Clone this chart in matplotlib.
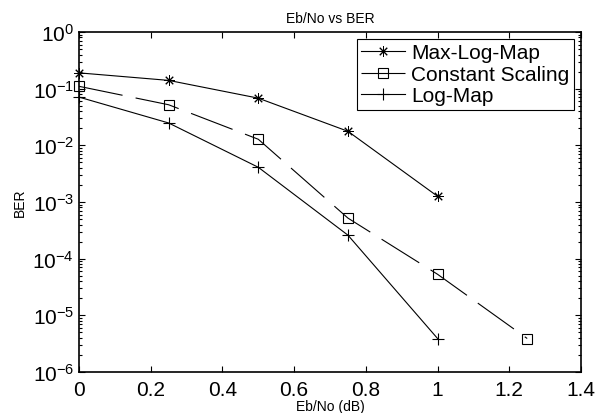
import matplotlib.pyplot as plt
from matplotlib.ticker import LogLocator, NullFormatter

plt.rcParams['font.family'] = ['Liberation Sans', 'DejaVu Sans']
plt.rcParams['mathtext.fontset'] = 'custom'
plt.rcParams['mathtext.rm'] = 'Liberation Sans'
plt.rcParams['mathtext.it'] = 'Liberation Sans'
plt.rcParams['mathtext.default'] = 'regular'

ebno_max = [0, 0.25, 0.5, 0.75, 1.0]
ber_max = [0.19, 0.14, 0.068, 0.0177, 0.00126]

ebno_const = [0, 0.25, 0.5, 0.75, 1.0, 1.25]
ber_const = [0.11, 0.052, 0.0128, 5.2e-4, 5.3e-5, 3.9e-6]

ebno_log = [0, 0.25, 0.5, 0.75, 1.0]
ber_log = [0.071, 0.0248, 0.0041, 2.6e-4, 3.9e-6]

x_ticks = [0, 0.2, 0.4, 0.6, 0.8, 1, 1.2, 1.4]
x_labels = ['0', '0.2', '0.4', '0.6', '0.8', '1', '1.2', '1.4']
y_ticks = [1e-6, 1e-5, 1e-4, 1e-3, 1e-2, 1e-1, 1e0]
y_labels = ['10$^{-6}$', '10$^{-5}$', '10$^{-4}$', '10$^{-3}$',
            '10$^{-2}$', '10$^{-1}$', '10$^{0}$']

fig = plt.figure(figsize=(6.04, 4.14), dpi=100)
ax = fig.add_axes([79 / 604, 1 - 373 / 414, (581 - 79) / 604, (373 - 33) / 414])

ax.semilogy(ebno_max, ber_max, color='black', lw=0.8, marker=(8, 2, 0), ms=7.5,
            mew=0.7, label='Max-Log-Map', clip_on=False)
ax.semilogy(ebno_const, ber_const, color='black', lw=0.8, marker='s', ms=7.5,
            mfc='none', mew=0.8, dashes=(40, 12), label='Constant Scaling',
            clip_on=False)
ax.semilogy(ebno_log, ber_log, color='black', lw=0.8, marker='+', ms=8,
            mew=0.8, label='Log-Map', clip_on=False)

ax.set_xlim(0, 1.4)
ax.set_ylim(1e-6, 1)
ax.set_xticks(x_ticks)
ax.set_xticklabels(x_labels)
ax.set_yticks(y_ticks)
ax.set_yticklabels(y_labels)
ax.yaxis.set_minor_locator(LogLocator(base=10, subs=range(2, 10), numticks=20))
ax.yaxis.set_minor_formatter(NullFormatter())

ax.tick_params(which='both', direction='in', top=True, right=True,
               labelsize=15, width=0.8, color='black')
ax.tick_params(which='major', length=4)
ax.tick_params(which='minor', length=2)
ax.tick_params(axis='x', pad=6)
for s in ax.spines.values():
    s.set_linewidth(1.2)

ax.set_title('Eb/No vs BER', fontsize=10, pad=7)
ax.set_xlabel('Eb/No (dB)', fontsize=10, labelpad=0)
ax.set_ylabel('BER', fontsize=10, labelpad=4)

leg = ax.legend(loc='upper right', fontsize=15, fancybox=False,
                edgecolor='black', framealpha=1, borderaxespad=0.35,
                handlelength=2.1, borderpad=0.2, labelspacing=0.12,
                handletextpad=0.3)
leg.get_frame().set_linewidth(0.8)

fig.savefig('out.png', dpi=100)
